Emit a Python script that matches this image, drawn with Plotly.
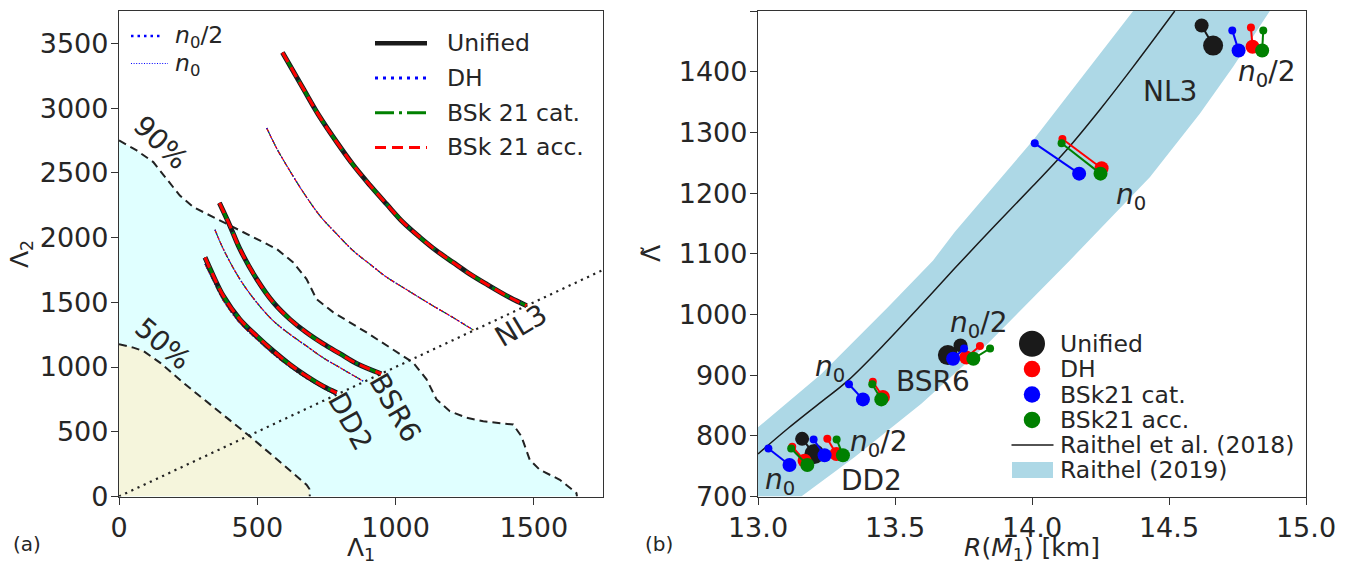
import plotly.graph_objects as go

W, H = 1364, 567

# ---------------- panel (a) data ----------------
c90_L1 = [0, 64, 124, 172, 220, 269, 341, 413, 485, 570, 630, 666, 678, 714, 775, 895, 991, 1064,
          1112, 1148, 1196, 1257, 1317, 1425, 1455, 1485, 1521, 1594, 1654, 1656]
c90_L2 = [2750, 2673, 2583, 2454, 2324, 2235, 2157, 2080, 2002, 1912, 1808, 1705, 1680, 1525, 1422,
          1267, 1137, 1034, 905, 750, 659, 608, 581, 556, 465, 284, 207, 129, 26, 0]
c50_L1 = [0, 52, 88, 148, 232, 293, 353, 473, 594, 678, 688, 690]
c50_L2 = [1176, 1150, 1124, 1034, 879, 775, 672, 465, 246, 91, 60, 0]

diag_L = [0, 1750]

nl3_half_L1 = [591, 666, 726, 787, 847, 907, 967, 1027, 1088, 1148, 1208, 1269, 1329, 1413, 1474]
nl3_half_L2 = [3430, 3151, 2932, 2738, 2560, 2405, 2260, 2118, 2002, 1898, 1808, 1718, 1640, 1537, 1474]
nl3_n0_L1 = [534, 570, 606, 666, 726, 787, 847, 907, 967, 1027, 1076, 1136, 1208, 1281]
nl3_n0_L2 = [2847, 2690, 2557, 2351, 2170, 2028, 1898, 1795, 1695, 1615, 1550, 1472, 1382, 1286]
bsr6_half_L1 = [363, 401, 437, 498, 558, 618, 678, 738, 799, 859, 948]
bsr6_half_L2 = [2268, 2092, 1912, 1679, 1499, 1369, 1266, 1180, 1103, 1028, 948]
bsr6_n0_L1 = [347, 377, 437, 498, 558, 618, 678, 738, 799, 883]
bsr6_n0_L2 = [2061, 1912, 1679, 1499, 1356, 1253, 1162, 1072, 995, 891]
dd2_half_L1 = [311, 341, 377, 437, 498, 558, 618, 678, 738, 787]
dd2_half_L2 = [1847, 1705, 1550, 1369, 1240, 1124, 1020, 930, 852, 801]
dd2_n0_L1 = [311, 341, 377, 437, 498, 558, 618, 678, 738, 781]
dd2_n0_L2 = [1795, 1665, 1515, 1340, 1215, 1100, 1000, 912, 838, 788]

# ---------------- panel (b) data ----------------
band_upper_R = [13.0, 13.231, 13.474, 13.639, 13.718, 14.004, 14.369]
band_upper_L = [814, 902, 1012, 1089, 1136, 1287, 1500]
band_lower_R = [13.158, 13.353, 13.596, 13.839, 14.138, 14.30, 14.430, 14.613, 14.734, 14.868]
band_lower_L = [700, 765, 853, 952, 1089, 1165, 1226, 1331, 1408, 1500]

raithel_R = [13.0, 13.109, 13.231, 13.328, 13.474, 13.596, 13.718, 13.864, 14.004, 14.126, 14.247, 14.369, 14.521]
raithel_L = [770, 812, 856, 891, 957, 1016, 1076, 1146, 1212, 1271, 1337, 1408, 1500]

# order of EOS in each list: DD2, BSR6, NL3
uni_R_small = [13.161, 13.739, 14.619]
uni_L_small = [795, 949, 1476]
uni_R_big = [13.206, 13.693, 14.661]
uni_L_big = [770, 933, 1443]

dh_half_R_small = [13.253, 13.810, 14.799]
dh_half_L_small = [795, 948, 1473]
dh_half_R_big = [13.286, 13.760, 14.805]
dh_half_L_big = [770, 929, 1441]
dh_n0_R_small = [13.125, 13.419, 14.111]
dh_n0_L_small = [782, 889, 1289]
dh_n0_R_big = [13.170, 13.456, 14.254]
dh_n0_L_big = [759, 864, 1241]

cat_half_R_small = [13.203, 13.752, 14.731]
cat_half_L_small = [794, 944, 1468]
cat_half_R_big = [13.243, 13.712, 14.754]
cat_half_L_big = [768, 927, 1435]
cat_n0_R_small = [13.038, 13.332, 14.010]
cat_n0_L_small = [779, 885, 1282]
cat_n0_R_big = [13.115, 13.383, 14.172]
cat_n0_L_big = [752, 860, 1232]

acc_half_R_small = [13.287, 13.847, 14.844]
acc_half_L_small = [794, 944, 1468]
acc_half_R_big = [13.310, 13.786, 14.840]
acc_half_L_big = [768, 927, 1435]
acc_n0_R_small = [13.121, 13.417, 14.108]
acc_n0_L_small = [779, 885, 1282]
acc_n0_R_big = [13.180, 13.450, 14.250]
acc_n0_L_big = [752, 860, 1232]

# ---------------- styles ----------------
FONT = "DejaVu Sans"
TXT = "#262626"
SPINE = "#333333"
LIGHTCYAN = "#E0FFFF"
BEIGE = "#F5F5DC"
LIGHTBLUE = "#ADD8E6"
BLACK = "#1a1a1a"
TICK_SIZE = 27

fig = go.Figure()
A = dict(xaxis="x", yaxis="y", showlegend=False, hoverinfo="skip")
B = dict(xaxis="x2", yaxis="y2", showlegend=False, hoverinfo="skip")

# credible regions
fig.add_trace(go.Scatter(x=c90_L1 + [0], y=c90_L2 + [0], mode="lines", fill="toself",
                         fillcolor=LIGHTCYAN, line=dict(width=0, color="rgba(0,0,0,0)"), **A))
fig.add_trace(go.Scatter(x=c50_L1 + [0], y=c50_L2 + [0], mode="lines", fill="toself",
                         fillcolor=BEIGE, line=dict(width=0, color="rgba(0,0,0,0)"), **A))
for cx, cy in [(c90_L1, c90_L2), (c50_L1, c50_L2)]:
    fig.add_trace(go.Scatter(x=cx, y=cy, mode="lines",
                             line=dict(color="#222222", width=2, dash="8px,5px"), **A))
# equal-mass diagonal
fig.add_trace(go.Scatter(x=diag_L, y=diag_L, mode="lines",
                         line=dict(color="#222222", width=2.2, dash="2.2px,4.6px"), **A))

thin_styles = [("green", "7px,2px,1.2px,2px"), ("red", "4.4px,2px"), ("blue", "1.2px,2.4px")]
for lx, ly in [(nl3_n0_L1, nl3_n0_L2), (bsr6_n0_L1, bsr6_n0_L2), (dd2_n0_L1, dd2_n0_L2)]:
    for col, dash in thin_styles:
        fig.add_trace(go.Scatter(x=lx, y=ly, mode="lines",
                                 line=dict(color=col, width=1.2, dash=dash, shape="spline"), **A))

thick_styles = [(BLACK, 5, "solid"), ("blue", 3, "3px,5px"),
                ("green", 3, "19px,5px,3px,5px"), ("red", 3, "11px,6px")]
for lx, ly in [(nl3_half_L1, nl3_half_L2), (bsr6_half_L1, bsr6_half_L2), (dd2_half_L1, dd2_half_L2)]:
    for col, w, dash in thick_styles:
        fig.add_trace(go.Scatter(x=lx, y=ly, mode="lines",
                                 line=dict(color=col, width=w, dash=dash, shape="spline"), **A))

# ---------------- panel (b) ----------------
fig.add_trace(go.Scatter(x=[13.0] + band_upper_R + band_lower_R[::-1],
                         y=[700] + band_upper_L + band_lower_L[::-1],
                         mode="lines", fill="toself", fillcolor=LIGHTBLUE,
                         line=dict(width=0, color="rgba(0,0,0,0)"), **B))
fig.add_trace(go.Scatter(x=raithel_R, y=raithel_L, mode="lines",
                         line=dict(color=BLACK, width=1.5, shape="spline"), **B))


def pairs(groups, s_small, s_big):
    xs, ys, ss = [], [], []
    for Rs, Ls, Rb, Lb in groups:
        for i in range(len(Rs)):
            xs += [Rs[i], Rb[i], None]
            ys += [Ls[i], Lb[i], None]
            ss += [s_small, s_big, 0]
    return xs, ys, ss


models = [
    (BLACK, [(uni_R_small, uni_L_small, uni_R_big, uni_L_big)], 14, 20),
    ("red", [(dh_half_R_small, dh_half_L_small, dh_half_R_big, dh_half_L_big),
             (dh_n0_R_small, dh_n0_L_small, dh_n0_R_big, dh_n0_L_big)], 8, 14),
    ("blue", [(cat_half_R_small, cat_half_L_small, cat_half_R_big, cat_half_L_big),
              (cat_n0_R_small, cat_n0_L_small, cat_n0_R_big, cat_n0_L_big)], 8, 14),
    ("green", [(acc_half_R_small, acc_half_L_small, acc_half_R_big, acc_half_L_big),
               (acc_n0_R_small, acc_n0_L_small, acc_n0_R_big, acc_n0_L_big)], 8, 14),
]
for col, groups, s1, s2 in models:
    xs, ys, ss = pairs(groups, s1, s2)
    fig.add_trace(go.Scatter(x=xs, y=ys, mode="lines+markers",
                             line=dict(color=col, width=2),
                             marker=dict(color=col, size=ss, opacity=1, line=dict(width=0)),
                             connectgaps=False, **B))

# ---------------- axes ----------------
ax = dict(showline=True, linecolor=SPINE, linewidth=1.25, mirror=True, ticks="outside",
          ticklen=7, tickwidth=1.25, tickcolor=SPINE, showgrid=False, zeroline=False,
          tickfont=dict(family=FONT, size=TICK_SIZE, color=TXT), automargin=False)
ydom = [1 - 496.5 / H, 1 - 11 / H]
fig.update_layout(
    width=W, height=H, margin=dict(l=0, r=0, t=0, b=0),
    paper_bgcolor="white", plot_bgcolor="white", showlegend=False,
    font=dict(family=FONT, color=TXT, size=25),
    xaxis=dict(domain=[119 / W, 603 / W], range=[0, 1750], tickvals=[0, 500, 1000, 1500],
               anchor="y", **ax),
    yaxis=dict(domain=ydom, range=[0, 3750], tickvals=[0, 500, 1000, 1500, 2000, 2500, 3000, 3500],
               anchor="x", ticklabelstandoff=-3, **ax),
    xaxis2=dict(domain=[758 / W, 1306 / W], range=[13, 15], tickvals=[13, 13.5, 14, 14.5, 15],
                ticktext=["13.0", "13.5", "14.0", "14.5", "15.0"], anchor="y2", **ax),
    yaxis2=dict(domain=ydom, range=[700, 1500], tickvals=list(range(700, 1501, 100)),
                anchor="x2", ticklabelstandoff=-3, **ax),
)

ann = []


def ptext(x, y, text, size=24, angle=0, xanchor="center", yanchor="middle"):
    ann.append(dict(x=x / W, y=1 - y / H, xref="paper", yref="paper", text=text, showarrow=False,
                    xanchor=xanchor, yanchor=yanchor, textangle=angle,
                    font=dict(family=FONT, size=size, color=TXT)))


def dtext(x, y, text, ref, size=28, angle=0):
    ann.append(dict(x=x, y=y, xref="x" + ref, yref="y" + ref, text=text, showarrow=False,
                    xanchor="center", yanchor="middle", textangle=angle,
                    font=dict(family=FONT, size=size, color=TXT)))


N0 = "<i>n</i><sub>0</sub>"
N02 = "<i>n</i><sub>0</sub>/2"

# axis titles and panel tags
ptext(361, 549, "Λ<sub>1</sub>", 25)
ptext(21, 254, "Λ<sub>2</sub>", 25, -90)
ptext(1032, 549, "<i>R</i>(<i>M</i><sub>1</sub>) [km]", 25)
ptext(651, 254, "Λ̃", 25, -90)
ptext(27, 544, "(a)", 20)
ptext(659, 544, "(b)", 20)

# panel (a) labels
dtext(152, 2738, "90%", "", 28, 44)
dtext(158, 1183, "50%", "", 28, 40)
dtext(1455, 1317, "NL3", "", 28, -31)
dtext(997, 685, "BSR6", "", 28, 60)
dtext(837, 581, "DD2", "", 28, 61)

# panel (b) labels
dtext(14.503, 1367, "NL3", "2")
dtext(14.856, 1397, N02, "2")
dtext(14.363, 1194, N0, "2")
dtext(13.803, 984, N02, "2")
dtext(13.639, 889, "BSR6", "2")
dtext(13.261, 911, N0, "2")
dtext(13.438, 787, N02, "2")
dtext(13.413, 726, "DD2", "2")
dtext(13.079, 724, N0, "2")

# ---------------- legends (drawn as layout graphics) ----------------
shapes = []


def px(x):
    return x / W


def py(y):
    return 1 - y / H


def lkey(x0, x1, y, color, width, dash="solid"):
    shapes.append(dict(type="line", xref="paper", yref="paper", x0=px(x0), x1=px(x1), y0=py(y), y1=py(y),
                       line=dict(color=color, width=width, dash=dash)))


def ckey(cx, cy, d, color):
    shapes.append(dict(type="circle", xref="paper", yref="paper", x0=px(cx - d / 2), x1=px(cx + d / 2),
                       y0=py(cy + d / 2), y1=py(cy - d / 2), fillcolor=color, line=dict(width=0)))


# legend of panel (a), EOS models
leg_a = [("Unified", BLACK, 4.5, "solid"), ("DH", "blue", 3, "3px,5px"),
         ("BSk 21 cat.", "green", 3, "19px,5px,3px,5px"), ("BSk 21 acc.", "red", 3, "11px,6px")]
for i, (lab, col, w, dash) in enumerate(leg_a):
    y = 43.3 + i * 34.7
    lkey(375, 427, y, col, w, dash)
    ptext(445, y, lab, 23.5, xanchor="left")

# legend of panel (a), transition density
lkey(131, 163, 36, "blue", 2.5, "2.5px,4px")
ptext(172.5, 36, N02, 23.5, xanchor="left")
lkey(131, 168, 63.5, "blue", 1, "1px,1.6px")
ptext(172.5, 64, N0, 23.5, xanchor="left")

# legend of panel (b)
leg_b = [("Unified", BLACK, 26), ("DH", "red", 16.5), ("BSk21 cat.", "blue", 16.5),
         ("BSk21 acc.", "green", 16.5)]
for i, (lab, col, d) in enumerate(leg_b):
    y = 343.7 + i * 25.4
    ckey(1032, y, d, col)
    ptext(1058, y, lab, 23.5, xanchor="left")
lkey(1011.5, 1053.5, 445, BLACK, 1.5)
ptext(1058, 445, "Raithel et al. (2018)", 23.5, xanchor="left")
shapes.append(dict(type="rect", xref="paper", yref="paper", x0=px(1012), x1=px(1053), y0=py(478), y1=py(462),
                   fillcolor=LIGHTBLUE, line=dict(width=0)))
ptext(1058, 470, "Raithel (2019)", 23.5, xanchor="left")

fig.update_layout(annotations=ann, shapes=shapes)
fig.write_html("out.html", config={"displayModeBar": False},
               post_script="document.body.style.margin='0px';")
